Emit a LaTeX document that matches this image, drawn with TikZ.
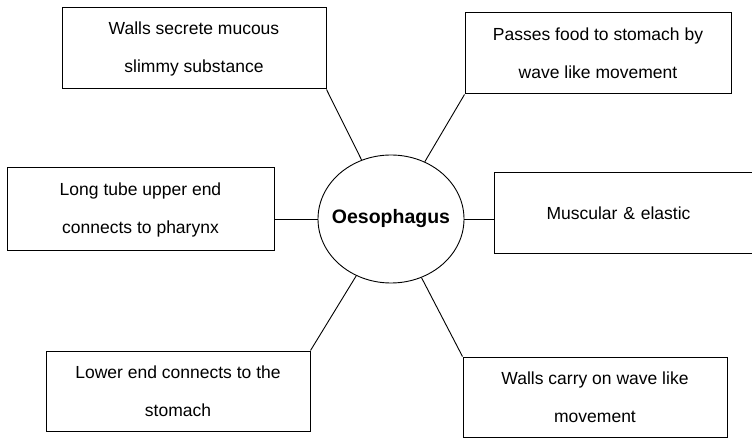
\documentclass[tikz,border=0pt]{standalone}
\usepackage{fontspec}
\setmainfont{Liberation Sans}
\usetikzlibrary{shapes.geometric}
\begin{document}
\begin{tikzpicture}[x=1pt,y=-1pt,
    box/.style={draw,line width=1pt,rectangle,minimum width=264pt,minimum height=81pt,align=center,inner sep=0pt,font=\fontsize{17.5}{38}\selectfont},
    link/.style={line width=0.9pt}]
    \useasboundingbox (0,0) rectangle (752,438);
    \clip (0,0) rectangle (752,438);
    \node[draw,ellipse,line width=0.9pt,minimum width=146pt,minimum height=128pt,inner sep=0pt,font=\fontsize{19.5}{22}\selectfont\bfseries](oes) at (391,219){\makebox[0pt]{Oesophagus}};
    \node[box](walls) at (194,48.5){Walls secrete mucous\\slimmy substance};
    \node[box,minimum width=266pt](passes) at (598,53.5){Passes food to stomach by\\wave like movement};
    \node[box,minimum width=267pt,minimum height=83pt](tube) at (140.5,209.5){Long tube upper end\\connects to pharynx};
    \node[box,anchor=west,minimum width=276pt,text width=172pt,align=left,inner xsep=52pt](musc) at (494,213){Muscular \& elastic};
    \node[box,minimum height=80pt](lower) at (178,391){Lower end connects to the\\stomach};
    \node[box,minimum height=80pt](carry) at (595,397){Walls carry on wave like\\movement};
    \draw[link](walls.south east) -- (oes);
    \draw[link](passes.south west) -- (oes);
    \draw[link](tube.east |- oes.west) -- (oes.west);
    \draw[link](musc.west |- oes.east) -- (oes.east);
    \draw[link](lower.north east) -- (oes);
    \draw[link](carry.north west) -- (oes);
\end{tikzpicture}
\end{document}
